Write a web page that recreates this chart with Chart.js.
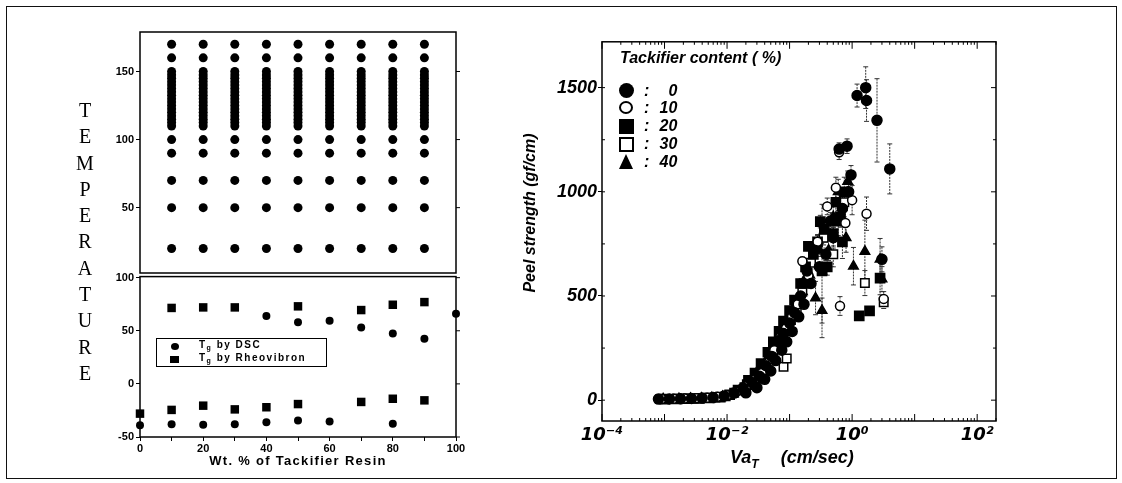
<!DOCTYPE html>
<html>
<head>
<meta charset="utf-8">
<script src="https://cdn.jsdelivr.net/npm/chart.js@4.4.1/dist/chart.umd.min.js"></script>
<style>
  body { margin: 0; background: #fff; width: 1122px; height: 483px; position: relative; overflow: hidden;
         font-family: "Liberation Sans", Arial, sans-serif; color: #000; }
  .abs { position: absolute; }
  .frame { left: 6px; top: 6px; width: 1111px; height: 473px; border: 1.5px solid #111; box-sizing: border-box; }
  .wrap { position: absolute; }
  .bi { font-weight: bold; font-style: italic; }
  .lg { font: bold 10px/12px "Liberation Sans", Arial, sans-serif; letter-spacing: 1.5px; white-space: nowrap; }
  .lg sub { font-size: 7px; vertical-align: -2px; }
  .row { font: bold italic 16px/18px "Liberation Sans", Arial, sans-serif; white-space: nowrap; }
  .row .n { display: inline-block; width: 28px; text-align: right; }
</style>
</head>
<body>
<div class="abs frame"></div>

<div class="wrap" style="left:60px;top:20px;width:420px;height:262px"><canvas id="gridChart"></canvas></div>
<div class="wrap" style="left:60px;top:268px;width:420px;height:206px"><canvas id="tgChart"></canvas></div>
<div class="wrap" style="left:480px;top:30px;width:546px;height:420px"><canvas id="peelChart"></canvas></div>

<!-- left panel texts -->
<div class="abs" style="left:75px;top:97px;width:20px;font:20px/26.3px 'Liberation Serif',serif;text-align:center;word-break:break-all">TEMPERATURE</div>
<div class="abs" style="left:140px;top:453px;width:316px;text-align:center;font:bold 13px/16px 'Liberation Sans',Arial,sans-serif;letter-spacing:1.3px">Wt. % of Tackifier Resin</div>

<div class="abs" style="left:156px;top:338px;width:171px;height:29px;border:1.5px solid #000;box-sizing:border-box"></div>
<div class="abs" style="left:171px;top:342.5px;width:8px;height:7px;border-radius:50%;background:#000"></div>
<div class="abs lg" style="left:199px;top:339px">T<sub>g</sub> by DSC</div>
<div class="abs" style="left:170px;top:355.5px;width:9px;height:7px;background:#000"></div>
<div class="abs lg" style="left:199px;top:352px">T<sub>g</sub> by Rheovibron</div>

<!-- right panel texts -->
<div class="abs bi" style="left:620px;top:49px;font-size:16px;line-height:18px;white-space:nowrap">Tackifier content ( %)</div>
<div class="abs" style="left:618.5px;top:83px;width:15px;height:15px;border-radius:50%;background:#000"></div>
<div class="abs" style="left:619px;top:101px;width:14px;height:13px;border-radius:50%;border:2px solid #000;box-sizing:border-box"></div>
<div class="abs" style="left:619px;top:118.5px;width:15px;height:15px;background:#000"></div>
<div class="abs" style="left:619px;top:136.5px;width:15px;height:15px;border:2px solid #000;box-sizing:border-box"></div>
<div class="abs" style="left:618.5px;top:154px;width:0;height:0;border-left:7.5px solid transparent;border-right:7.5px solid transparent;border-bottom:15px solid #000"></div>
<div class="abs row" style="left:644px;top:82px">:<span class="n">0</span></div>
<div class="abs row" style="left:644px;top:99px">:<span class="n">10</span></div>
<div class="abs row" style="left:644px;top:117px">:<span class="n">20</span></div>
<div class="abs row" style="left:644px;top:135px">:<span class="n">30</span></div>
<div class="abs row" style="left:644px;top:153px">:<span class="n">40</span></div>

<div class="abs bi" style="left:410px;top:204px;width:240px;text-align:center;font-size:16px;line-height:18px;transform:rotate(-90deg)">Peel strength (gf/cm)</div>
<div class="abs bi" style="left:730px;top:447px;font-size:18px;line-height:20px;white-space:nowrap">Va<sub style="font-size:12px">T</sub><span style="margin-left:22px">(cm/sec)</span></div>

<script>
Chart.defaults.font.family = '"Liberation Sans", Arial, sans-serif';
Chart.defaults.color = '#000';
Chart.defaults.animation = false;

// ---- left panel: measuring temperatures for each resin content ----
const wtPct = [10, 20, 30, 40, 50, 60, 70, 80, 90];
const measureTemps = [20, 50, 70, 90, 100, 110, 112.5, 115, 117.5, 120, 122.5, 125, 127.5, 130,
  132.5, 135, 137.5, 140, 142.5, 145, 147.5, 150, 160, 170];
const upperTicks = [50, 100, 150];

// ---- left panel: glass transition temperatures ----
const dscWt = [0, 10, 20, 30, 40, 50, 60, 80, 40, 50, 60, 70, 80, 90, 100];
const dscTg = [-39, -38, -38.5, -38, -36, -34.5, -35.5, -37.5, 64, 58, 59.5, 53, 47.5, 42.5, 66];
const rheoWt = [0, 10, 20, 30, 40, 50, 70, 80, 90, 10, 20, 30, 50, 70, 80, 90];
const rheoTg = [-28, -24.5, -20.5, -24, -22, -19, -17, -14, -15.5, 71.5, 72, 72, 73, 69.5, 74.5, 77];
const lowerTicks = [-50, 0, 50, 100];
const wtTicks = [0, 10, 20, 30, 40, 50, 60, 70, 80, 90, 100];

// ---- right panel: peel strength vs rate (v in cm/sec, p in gf/cm, e = error) ----
const v0 = [8e-4, 1.2e-3, 1.8e-3, 2.7e-3, 4e-3, 6e-3, 9e-3, 0.013, 0.018, 0.025, 0.033, 0.042, 0.052, 0.065, 0.08, 0.1,
  0.12, 0.15, 0.19, 0.25, 0.45, 0.5, 0.62, 0.7, 0.83, 0.88, 0.96, 1.2, 1.65, 1.7, 2.5, 3.0, 4.0,
  0.02, 0.03, 0.04, 0.05, 0.06, 0.075, 0.09, 0.11, 0.14, 0.17, 0.22, 0.3, 0.38];
const p0 = [5, 6, 7, 8, 10, 13, 20, 34, 58, 85, 115, 165, 210, 285, 320, 370,
  420, 500, 620, 720, 860, 780, 1205, 920, 1219, 1000, 1081, 1462, 1500, 1438, 1343, 676, 1110,
  35, 60, 100, 140, 190, 240, 280, 330, 400, 460, 560, 640, 700];
const e0 = [0, 0, 0, 0, 0, 0, 0, 0, 0, 0, 0, 0, 0, 0, 0, 0,
  15, 20, 25, 30, 40, 50, 30, 60, 35, 50, 45, 55, 100, 100, 200, 60, 120,
  0, 0, 0, 0, 0, 0, 0, 0, 0, 0, 0, 20, 30];

const v1 = [9e-4, 1.4e-3, 2.1e-3, 3.2e-3, 4.8e-3, 7e-3, 0.01, 0.014, 0.02, 0.027, 0.036, 0.046, 0.057, 0.07, 0.088, 0.11,
  0.135, 0.16, 0.2, 0.28, 0.4, 0.55, 0.62, 0.64, 0.78, 1.0, 1.7, 3.2];
const p1 = [6, 7, 8, 9, 12, 16, 24, 40, 66, 95, 130, 180, 240, 300, 345, 400,
  460, 667, 600, 760, 930, 1020, 1190, 452, 850, 960, 895, 486];
const e1 = [0, 0, 0, 0, 0, 0, 0, 0, 0, 0, 0, 0, 0, 0, 0, 0,
  15, 20, 25, 35, 40, 50, 35, 45, 60, 70, 80, 35];

const v2 = [1e-3, 1.6e-3, 2.4e-3, 3.6e-3, 5.3e-3, 7.8e-3, 0.011, 0.015, 0.021, 0.029, 0.038, 0.048, 0.06, 0.073, 0.09, 0.11,
  0.14, 0.17, 0.2, 0.31, 0.33, 0.4, 0.5, 0.55, 0.65, 0.7, 0.75, 1.3, 1.9, 2.8,
  0.022, 0.028, 0.035, 0.045, 0.055, 0.068, 0.08, 0.1, 0.12, 0.15, 0.18, 0.24, 0.28, 0.36];
const p2 = [5, 6, 7, 9, 11, 15, 26, 48, 75, 105, 150, 200, 255, 310, 355, 410,
  470, 560, 738, 857, 620, 640, 800, 950, 880, 760, 1000, 405, 429, 586,
  95, 130, 175, 230, 280, 330, 380, 430, 480, 560, 640, 700, 760, 820];
const e2 = [0, 0, 0, 0, 0, 0, 0, 0, 0, 0, 0, 0, 0, 0, 0, 0,
  15, 20, 20, 30, 320, 40, 60, 60, 50, 80, 70, 20, 20, 80,
  0, 0, 0, 0, 0, 0, 0, 0, 0, 0, 15, 25, 30, 40];

const v3 = [8.5e-4, 1.3e-3, 2e-3, 3e-3, 4.4e-3, 6.5e-3, 9.5e-3, 0.013, 0.019, 0.026, 0.034, 0.043, 0.055, 0.068, 0.085, 0.105,
  0.13, 0.16, 0.22, 0.35, 0.5, 0.75, 1.6, 3.2, 0.08, 0.09];
const p3 = [5, 6, 7, 8, 10, 13, 19, 36, 62, 90, 125, 170, 230, 290, 330, 385,
  440, 520, 660, 780, 700, 950, 562, 470, 160, 200];
const e3 = [0, 0, 0, 0, 0, 0, 0, 0, 0, 0, 0, 0, 0, 0, 0, 0,
  15, 20, 30, 35, 60, 70, 60, 30, 0, 0];

const v4 = [9.5e-4, 1.7e-3, 2.6e-3, 3.9e-3, 5.7e-3, 8.5e-3, 0.012, 0.017, 0.023, 0.031, 0.04, 0.05, 0.062, 0.075, 0.092, 0.115,
  0.14, 0.175, 0.26, 0.33, 0.42, 0.6, 0.85, 1.05, 1.6, 2.8, 3.0,
  0.032, 0.044, 0.056, 0.07, 0.085, 0.1, 0.125, 0.16, 0.21, 0.3, 0.38, 0.5, 0.6, 0.8];
const p4 = [6, 7, 8, 9, 12, 17, 28, 52, 78, 108, 155, 205, 265, 300, 360, 420,
  480, 580, 490, 430, 720, 1000, 1050, 643, 714, 676, 581,
  150, 200, 250, 310, 340, 400, 460, 520, 600, 720, 800, 880, 850, 780];
const e4 = [0, 0, 0, 0, 0, 0, 0, 0, 0, 0, 0, 0, 0, 0, 0, 0,
  15, 25, 80, 60, 50, 60, 50, 90, 150, 100, 60,
  0, 0, 0, 0, 0, 0, 0, 0, 20, 30, 40, 50, 60, 70];

const peelTicks = [0, 500, 1000, 1500];
const rateTicks = [1e-4, 1e-2, 1, 100];
const rateTickLabels = ['10⁻⁴', '10⁻²', '10⁰', '10²'];

// box around the plot area + small ticks on the right side
const frameBox = {
  id: 'frameBox',
  afterDraw(chart) {
    const { ctx, chartArea: a, scales } = chart;
    ctx.save();
    ctx.strokeStyle = '#000';
    ctx.lineWidth = 1.5;
    ctx.strokeRect(a.left, a.top, a.width, a.height);
    ctx.lineWidth = 1;
    ctx.beginPath();
    scales.y.ticks.forEach(t => {
      const py = scales.y.getPixelForValue(t.value);
      ctx.moveTo(a.right, py);
      ctx.lineTo(a.right + 4, py);
    });
    ctx.stroke();
    ctx.restore();
  }
};

const tickFont = { size: 11, weight: 'bold' };
const yLeft = (min, max, ticks) => ({
  min, max,
  afterFit: s => { s.width = 80; },
  afterBuildTicks: s => { s.ticks = ticks.map(v => ({ value: v })); },
  grid: { drawOnChartArea: false, tickLength: 4, color: '#000', lineWidth: 1 },
  border: { display: false },
  ticks: { font: tickFont, padding: 2, color: '#000', callback: v => String(v) }
});

new Chart(document.getElementById('gridChart'), {
  type: 'scatter',
  data: {
    datasets: [{
      data: wtPct.flatMap(w => measureTemps.map(t => ({ x: w, y: t }))),
      pointStyle: 'circle', pointRadius: 4.5, backgroundColor: '#000', borderWidth: 0
    }]
  },
  options: {
    responsive: true, maintainAspectRatio: false,
    layout: { padding: { top: 12, right: 24, bottom: 9, left: 0 } },
    plugins: { legend: { display: false }, tooltip: { enabled: false } },
    scales: {
      x: { min: 0, max: 100, display: false },
      y: yLeft(2, 179, upperTicks)
    }
  },
  plugins: [frameBox]
});

new Chart(document.getElementById('tgChart'), {
  type: 'scatter',
  data: {
    datasets: [
      { label: 'Tg by DSC', data: dscWt.map((w, i) => ({ x: w, y: dscTg[i] })), clip: false,
        pointStyle: 'circle', pointRadius: 4, backgroundColor: '#000', borderWidth: 0 },
      { label: 'Tg by Rheovibron', data: rheoWt.map((w, i) => ({ x: w, y: rheoTg[i] })), clip: false,
        pointStyle: 'rect', pointRadius: 6, backgroundColor: '#000', borderWidth: 0 }
    ]
  },
  options: {
    responsive: true, maintainAspectRatio: false,
    layout: { padding: { top: 6, right: 24, bottom: 0, left: 0 } },
    plugins: { legend: { display: false }, tooltip: { enabled: false } },
    scales: {
      x: {
        min: 0, max: 100,
        afterFit: s => { s.height = 37; },
        afterBuildTicks: s => { s.ticks = wtTicks.map(v => ({ value: v })); },
        grid: { drawOnChartArea: false, tickLength: 4, color: '#000' },
        border: { display: false },
        ticks: { font: tickFont, padding: 1, autoSkip: false, maxRotation: 0,
                 callback: v => (v % 20 === 0 ? String(v) : '') }
      },
      y: yLeft(-50, 101, lowerTicks)
    }
  },
  plugins: [frameBox]
});

// error bars, drawn under the markers
const errorBars = {
  id: 'errorBars',
  beforeDatasetsDraw(chart) {
    const { ctx, scales: { x, y } } = chart;
    ctx.save();
    ctx.strokeStyle = '#333';
    ctx.lineWidth = 1;
    chart.data.datasets.forEach(ds => {
      (ds.errs || []).forEach((e, i) => {
        if (!e) return;
        const pt = ds.data[i];
        const px = x.getPixelForValue(pt.x);
        const yt = y.getPixelForValue(pt.y + e);
        const yb = y.getPixelForValue(pt.y - e);
        ctx.setLineDash([2, 1]);
        ctx.beginPath();
        ctx.moveTo(px, yt); ctx.lineTo(px, yb);
        ctx.stroke();
        ctx.setLineDash([]);
        ctx.beginPath();
        ctx.moveTo(px - 2.5, yt); ctx.lineTo(px + 2.5, yt);
        ctx.moveTo(px - 2.5, yb); ctx.lineTo(px + 2.5, yb);
        ctx.stroke();
      });
    });
    ctx.restore();
  }
};

// frame with log minor ticks
const logFrame = {
  id: 'logFrame',
  afterDraw(chart) {
    const { ctx, chartArea: a, scales: { x, y } } = chart;
    ctx.save();
    ctx.strokeStyle = '#000';
    ctx.lineWidth = 1.5;
    ctx.strokeRect(a.left, a.top, a.width, a.height);
    ctx.lineWidth = 1;
    ctx.beginPath();
    for (let n = -4; n <= 2; n++) {
      for (let k = 1; k < 10; k++) {
        const v = k * Math.pow(10, n);
        if (v > x.max) break;
        const px = x.getPixelForValue(v);
        const len = k === 1 ? 7 : 3;
        ctx.moveTo(px, a.bottom); ctx.lineTo(px, a.bottom - len);
        ctx.moveTo(px, a.top); ctx.lineTo(px, a.top + len);
      }
    }
    for (let v = 0; v <= y.max; v += 250) {
      const py = y.getPixelForValue(v);
      const len = v % 500 === 0 ? 5 : 3;
      ctx.moveTo(a.right, py); ctx.lineTo(a.right - len, py);
      ctx.moveTo(a.left, py); ctx.lineTo(a.left + 3, py);
    }
    ctx.stroke();
    ctx.restore();
  }
};

const series = [
  { v: v0, p: p0, e: e0, style: 'circle', fill: true, r: 5 },
  { v: v1, p: p1, e: e1, style: 'circle', fill: false, r: 4.5 },
  { v: v2, p: p2, e: e2, style: 'rect', fill: true, r: 6.5 },
  { v: v3, p: p3, e: e3, style: 'rect', fill: false, r: 6 },
  { v: v4, p: p4, e: e4, style: 'triangle', fill: true, r: 5.5 }
];

new Chart(document.getElementById('peelChart'), {
  type: 'scatter',
  data: {
    datasets: series.map(s => ({
      data: s.v.map((v, i) => ({ x: v, y: s.p[i] })),
      errs: s.e,
      pointStyle: s.style,
      pointRadius: s.r,
      backgroundColor: s.fill ? '#000' : '#fff',
      borderColor: '#000',
      borderWidth: 1.5
    }))
  },
  options: {
    responsive: true, maintainAspectRatio: false,
    layout: { padding: { top: 7, right: 30, bottom: 0, left: 0 } },
    plugins: { legend: { display: false }, tooltip: { enabled: false } },
    scales: {
      x: {
        type: 'logarithmic', min: 1e-4, max: 200,
        afterFit: s => { s.height = 29; },
        afterBuildTicks: s => { s.ticks = rateTicks.map(v => ({ value: v })); },
        grid: { display: false, drawTicks: false },
        border: { display: false },
        ticks: {
          font: { family: '"DejaVu Sans", sans-serif', size: 18, weight: 'bold', style: 'italic' },
          padding: 4, maxRotation: 0, autoSkip: false,
          callback: v => rateTickLabels[rateTicks.indexOf(v)] ?? ''
        }
      },
      y: {
        min: -100, max: 1720,
        afterFit: s => { s.width = 122; },
        afterBuildTicks: s => { s.ticks = peelTicks.map(v => ({ value: v })); },
        grid: { drawOnChartArea: false, tickLength: 4, color: '#000' },
        border: { display: false },
        ticks: { font: { size: 18, weight: 'bold', style: 'italic' }, padding: 1, callback: v => String(v) }
      }
    }
  },
  plugins: [errorBars, logFrame]
});
</script>
</body>
</html>
